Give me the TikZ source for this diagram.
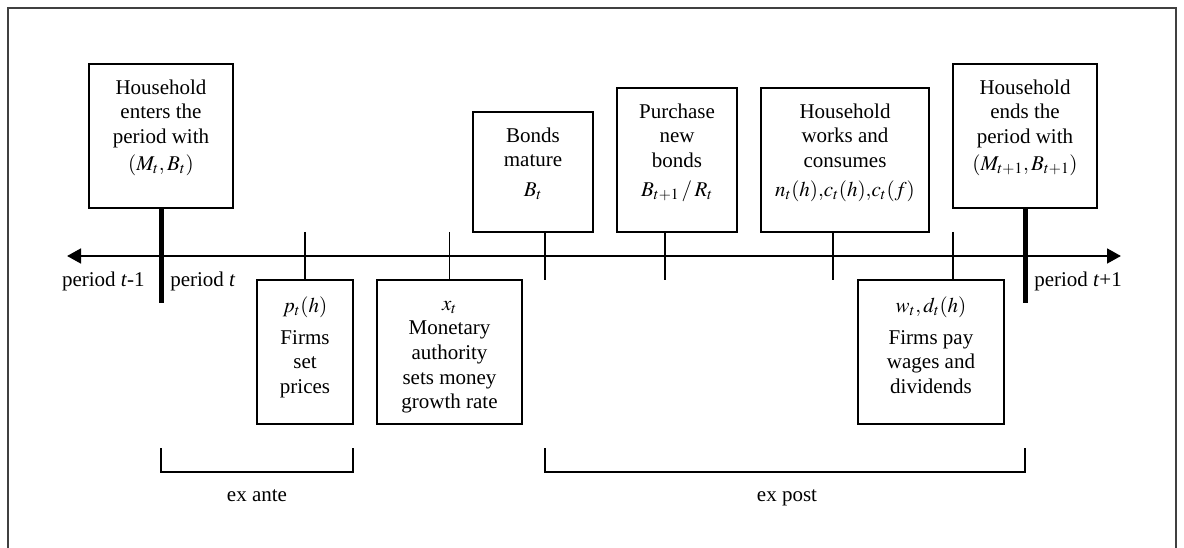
\documentclass[tikz,border=0pt]{standalone}
\usepackage{mathptmx}
\usepackage{fontspec}
\setmainfont{Liberation Serif}
\usetikzlibrary{arrows.meta}
\begin{document}
\begin{tikzpicture}[x=0.75pt, y=-0.75pt,
  box/.style={draw, line width=1.5pt, inner sep=0pt},
  txt/.style={anchor=north, align=center, inner sep=0pt, font=\fontsize{15.75}{18.4}\selectfont},
  lbl/.style={inner sep=0pt, font=\fontsize{15.75}{18.4}\selectfont},
  tickline/.style={line width=1.3pt},
  bigbar/.style={line width=3.75pt},
  axisline/.style={line width=2pt, {Triangle[length=10.5pt,width=11pt]}-{Triangle[length=10.5pt,width=11pt]}},
  frameline/.style={black!75, line width=0.8pt}
]
\useasboundingbox (0,0) rectangle (1184,548);
% outer frame
\draw[frameline] (8,548) -- (8,8) -- (1176,8) -- (1176,548);

% boxes above the axis
\node[box, minimum width=108pt, minimum height=108pt] (b1) at (161,136) {};
\node[box, minimum width=90pt,  minimum height=90pt]  (bm) at (533,172) {};
\node[box, minimum width=90pt,  minimum height=108pt] (pb) at (677,160) {};
\node[box, minimum width=126pt, minimum height=108pt] (hw) at (845,160) {};
\node[box, minimum width=108pt, minimum height=108pt] (be) at (1025,136) {};
% boxes below the axis
\node[box, minimum width=72pt,    minimum height=108pt] (pt) at (305,352) {};
\node[box, minimum width=108.75pt, minimum height=108pt] (xt) at (449.5,352) {};
\node[box, minimum width=109.5pt, minimum height=108pt] (wt) at (931,352) {};

% box texts
\node[txt] (b1t) at ([yshift=-10.5pt]b1.north) {\strut Household\\enters the\\period with\\[1.5pt]$(M_t,B_t)$};
\node[txt] (bmt) at ([yshift=-10.5pt]bm.north) {\strut Bonds\\mature\\[3.4pt]$B_t$};
\node[txt] (pbt) at ([yshift=-10.5pt]pb.north) {\strut Purchase\\new\\bonds\\[3.4pt]$B_{t+1}\,/\,R_t$};
\node[txt] (hwt) at ([yshift=-10.5pt]hw.north) {\strut Household\\works and\\consumes\\[3.4pt]$n_t(h){,}c_t(h){,}c_t(f)$};
\node[txt] (bet) at ([yshift=-10.5pt]be.north) {\strut Household\\ends the\\period with\\[1.5pt]$(M_{t+1},B_{t+1})$};
\node[txt] (ptt) at ([yshift=-12pt]pt.north) {\strut $p_t(h)$\\[5.6pt]Firms\\set\\prices};
\node[txt] (xtt) at ([yshift=-10.5pt]xt.north) {\strut $x_t$\\Monetary\\authority\\sets money\\growth rate};
\node[txt] (wtt) at ([yshift=-12pt]wt.north) {\strut $w_t, d_t(h)$\\[5.6pt]Firms pay\\wages and\\dividends};

% axis
\coordinate (axL) at (67,256);
\coordinate (axR) at (1121,256);
\draw[axisline] (axL) -- (axR);

% thick period boundaries
\coordinate (barL) at (161,303);
\coordinate (barR) at (1025,303);
\draw[bigbar] (b1.south) -- (barL);
\draw[bigbar] (be.south) -- (barR);

% thin ticks
\coordinate (tkP) at (305,232);
\coordinate (tkX) at (449.5,232);
\coordinate (tkB) at (545,280);
\coordinate (tkN) at (665,280);
\coordinate (tkH) at (833,280);
\coordinate (tkW) at (953,232);
\draw[tickline] (tkP) -- (tkP |- pt.north);
\draw[tickline] (tkX) -- (tkX |- xt.north);
\draw[tickline] (bm.south -| tkB) -- (tkB);
\draw[tickline] (pb.south -| tkN) -- (tkN);
\draw[tickline] (hw.south -| tkH) -- (tkH);
\draw[tickline] (tkW) -- (tkW |- wt.north);

% period labels
\node[lbl, anchor=base east] (pm1) at (145,287) {period \textit{t}-1};
\node[lbl, anchor=base west] (p0) at (170,287) {period \textit{t}};
\node[lbl, anchor=base west] (pp1) at (1034,287) {period \textit{t}+1};

% brackets
\coordinate (ea1) at (161,448);
\coordinate (ea2) at (353,448);
\coordinate (ep1) at (545,448);
\coordinate (ep2) at (1025,448);
\draw[tickline] (ea1) -- ++(0,24) -| (ea2);
\draw[tickline] (ep1) -- ++(0,24) -| (ep2);
\node[lbl, anchor=base] (exante) at (257,501) {ex ante};
\node[lbl, anchor=base] (expost) at (787,501) {ex post};
\end{tikzpicture}
\end{document}
